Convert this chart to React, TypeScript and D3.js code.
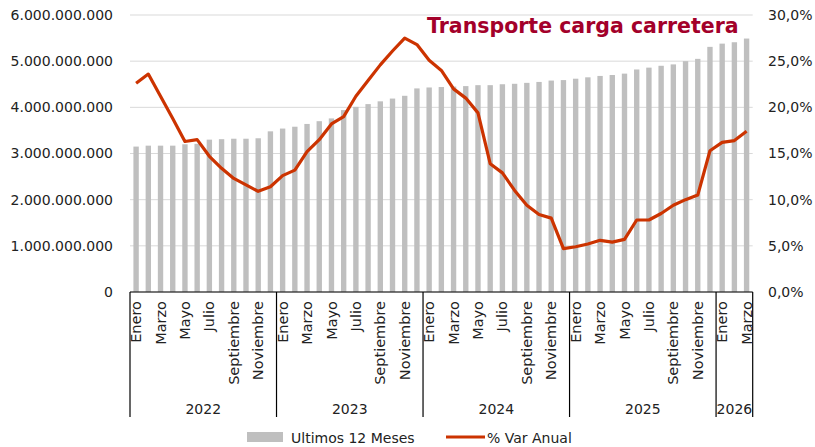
import React from "react";
import * as d3 from "d3";

const years = ["2022", "2023", "2024", "2025", "2026"];
const monthNames = ["Enero", "Febrero", "Marzo", "Abril", "Mayo", "Junio", "Julio", "Agosto", "Septiembre", "Octubre", "Noviembre", "Diciembre"];
const monthsPerYear = [12, 12, 12, 12, 3];

// Ultimos 12 meses (miles de millones)
const ultimos12 = [
  3.15, 3.17, 3.17, 3.17, 3.2, 3.21, 3.3, 3.31, 3.32, 3.32, 3.33, 3.48,
  3.54, 3.58, 3.64, 3.7, 3.76, 3.94, 4.01, 4.07, 4.13, 4.19, 4.25, 4.41,
  4.43, 4.44, 4.45, 4.46, 4.48, 4.48, 4.5, 4.51, 4.53, 4.55, 4.58, 4.59,
  4.62, 4.65, 4.68, 4.7, 4.73, 4.82, 4.86, 4.9, 4.93, 5.0, 5.05, 5.31,
  5.38, 5.41, 5.49,
];

// % Var Anual
const varAnual = [
  22.6, 23.6, 21.2, 18.8, 16.3, 16.5, 14.7, 13.4, 12.3, 11.6, 10.9, 11.4,
  12.6, 13.2, 15.2, 16.5, 18.2, 19.0, 21.2, 22.9, 24.6, 26.1, 27.5, 26.8,
  25.1, 24.0, 22.0, 21.0, 19.4, 13.9, 12.9, 11.0, 9.4, 8.4, 8.0, 4.7,
  4.9, 5.2, 5.6, 5.4, 5.7, 7.8, 7.8, 8.5, 9.4, 10.0, 10.5, 15.3,
  16.2, 16.4, 17.4,
];

const leftTicks = [0, 1e9, 2e9, 3e9, 4e9, 5e9, 6e9];
const rightTicks = [0, 5, 10, 15, 20, 25, 30];

const FONT = "'Century Gothic', 'DejaVu Sans', sans-serif";

export default function App() {
  const W = 815, H = 447;
  const left = 130, right = 752.7, top = 15, bottom = 292;

  const cats: { key: string; month: string; year: string; idx: number }[] = [];
  years.forEach((y, yi) => {
    for (let m = 0; m < monthsPerYear[yi]; m++) {
      cats.push({ key: `${y}-${m}`, month: monthNames[m], year: y, idx: m });
    }
  });

  const x = d3.scaleBand<string>().domain(cats.map((c) => c.key)).range([left, right]).padding(0);
  const yL = d3.scaleLinear().domain([0, 6e9]).range([bottom, top]);
  const yR = d3.scaleLinear().domain([0, 30]).range([bottom, top]);
  const bw = x.bandwidth();
  const barW = bw * 0.44;

  const line = d3
    .line<number>()
    .x((_, i) => (x(cats[i].key) as number) + bw / 2)
    .y((d) => yR(d));

  const fmt = (v: number) => d3.format(",")(v).replace(/,/g, ".");

  const boundaries: number[] = [];
  let acc = 0;
  monthsPerYear.forEach((n) => {
    boundaries.push(acc);
    acc += n;
  });
  boundaries.push(acc);

  return (
    <svg width={W} height={H} style={{ position: "absolute", left: 0, top: 0, background: "#fff" }} fontFamily={FONT}>
      {leftTicks.map((t) => (
        <line key={`g${t}`} x1={left} x2={right} y1={yL(t)} y2={yL(t)} stroke="#d9d9d9" strokeWidth={1} />
      ))}
      {cats.map((c, i) => (
        <rect
          key={c.key}
          x={(x(c.key) as number) + (bw - barW) / 2}
          y={yL(ultimos12[i] * 1e9)}
          width={barW}
          height={bottom - yL(ultimos12[i] * 1e9)}
          fill="#bfbfbf"
        />
      ))}
      <path d={line(varAnual) as string} fill="none" stroke="#cc3300" strokeWidth={3.2} strokeLinejoin="round" />

      {leftTicks.map((t) => (
        <text key={`l${t}`} x={113} y={yL(t)} dy="0.35em" textAnchor="end" fontSize={14} fill="#222">
          {fmt(t)}
        </text>
      ))}
      {rightTicks.map((t) => (
        <text key={`r${t}`} x={768} y={yR(t)} dy="0.35em" textAnchor="start" fontSize={14} fill="#222">
          {t.toFixed(1).replace(".", ",") + "%"}
        </text>
      ))}

      <line x1={left} x2={right} y1={bottom} y2={bottom} stroke="#000" strokeWidth={1.2} />
      {boundaries.map((b, i) => {
        const bx = b < cats.length ? (x(cats[b].key) as number) : right;
        return <line key={`s${i}`} x1={bx} x2={bx} y1={bottom} y2={417} stroke="#000" strokeWidth={1.2} />;
      })}
      {cats.map((c) =>
        c.idx % 2 === 0 ? (
          <text
            key={`m${c.key}`}
            transform={`translate(${(x(c.key) as number) + bw / 2},301) rotate(-90)`}
            textAnchor="end"
            dy="0.35em"
            fontSize={14.5}
            fill="#222"
          >
            {c.month}
          </text>
        ) : null
      )}
      {years.map((y, i) => {
        const x0 = x(cats[boundaries[i]].key) as number;
        const x1 = boundaries[i + 1] < cats.length ? (x(cats[boundaries[i + 1]].key) as number) : right;
        return (
          <text key={`y${y}`} x={(x0 + x1) / 2} y={414} textAnchor="middle" fontSize={14} fill="#222">
            {y}
          </text>
        );
      })}

      <text x={427} y={33} fontSize={20.5} fontWeight="bold" fill="#a3002a">
        Transporte carga carretera
      </text>

      <rect x={247} y={432} width={36} height={10} fill="#bfbfbf" />
      <text x={291} y={443} fontSize={14} fill="#222">
        Ultimos 12 Meses
      </text>
      <line x1={446} x2={485} y1={437} y2={437} stroke="#cc3300" strokeWidth={3.2} />
      <text x={487} y={443} fontSize={14} fill="#222">
        % Var Anual
      </text>
    </svg>
  );
}
